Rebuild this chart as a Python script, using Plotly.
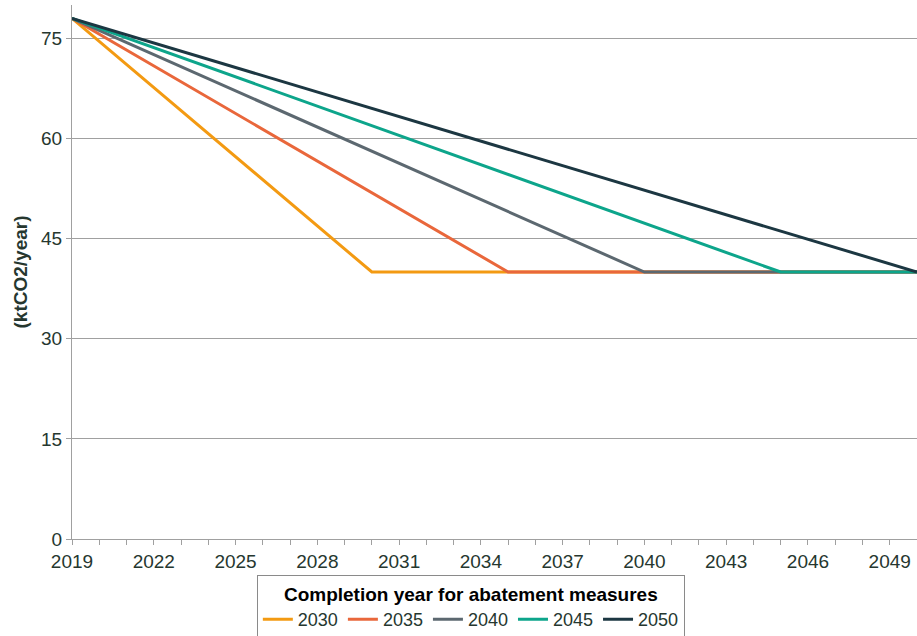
import plotly.graph_objects as go

# Data
completion_years = [2030, 2035, 2040, 2045, 2050]
start_year = 2019
end_year = 2050
start_value = 78
target_value = 40
series_names = ["2030", "2035", "2040", "2045", "2050"]
colors = ["#F39A12", "#E9673B", "#5C6870", "#0DA58B", "#1C3742"]

fig = go.Figure()
for name, cy, col in zip(series_names, completion_years, colors):
    xs = [start_year, cy, end_year]
    ys = [start_value, target_value, target_value]
    fig.add_trace(go.Scatter(x=xs, y=ys, mode="lines", name=name,
                             line=dict(color=col, width=3)))

FAM = "Liberation Sans, Arial, sans-serif"
tick_font = dict(family=FAM, size=19, color="#26372f")

fig.update_layout(
    width=917, height=636,
    margin=dict(l=72, r=0, t=5, b=97, autoexpand=False),
    paper_bgcolor="white", plot_bgcolor="white",
    font=tick_font,
    showlegend=True,
    legend=dict(
        orientation="h",
        x=0.472, xanchor="center",
        y=-0.068, yanchor="top",
        bordercolor="#8a8a8a", borderwidth=1,
        font=dict(family=FAM, size=18, color="#26372f"),
        title=dict(text="<b>Completion year for abatement measures</b>", side="top center",
                   font=dict(family=FAM, size=19, color="black")),
        itemwidth=30,
        tracegroupgap=0,
    ),
    xaxis=dict(
        range=[2019, 2050],
        tickmode="linear", tick0=2019, dtick=3,
        ticks="outside", ticklen=5, tickcolor="#a0a0a0",
        showline=True, linecolor="#a0a0a0", linewidth=1,
        showgrid=False, zeroline=False,
        minor=dict(dtick=1, tick0=2019, ticks="outside", ticklen=5, tickcolor="#a0a0a0", showgrid=False),
        tickfont=tick_font,
    ),
    yaxis=dict(
        range=[0, 80],
        tickmode="linear", tick0=0, dtick=15,
        ticks="outside", ticklen=5, tickcolor="#a0a0a0",
        showline=True, linecolor="#a0a0a0", linewidth=1,
        showgrid=True, gridcolor="#a0a0a0", gridwidth=1,
        zeroline=False,
        tickfont=tick_font,
        title=dict(text="<b>(ktCO2/year)</b>", standoff=8,
                   font=dict(family=FAM, size=19, color="#26372f")),
    ),
)

fig.write_html("out.html")
